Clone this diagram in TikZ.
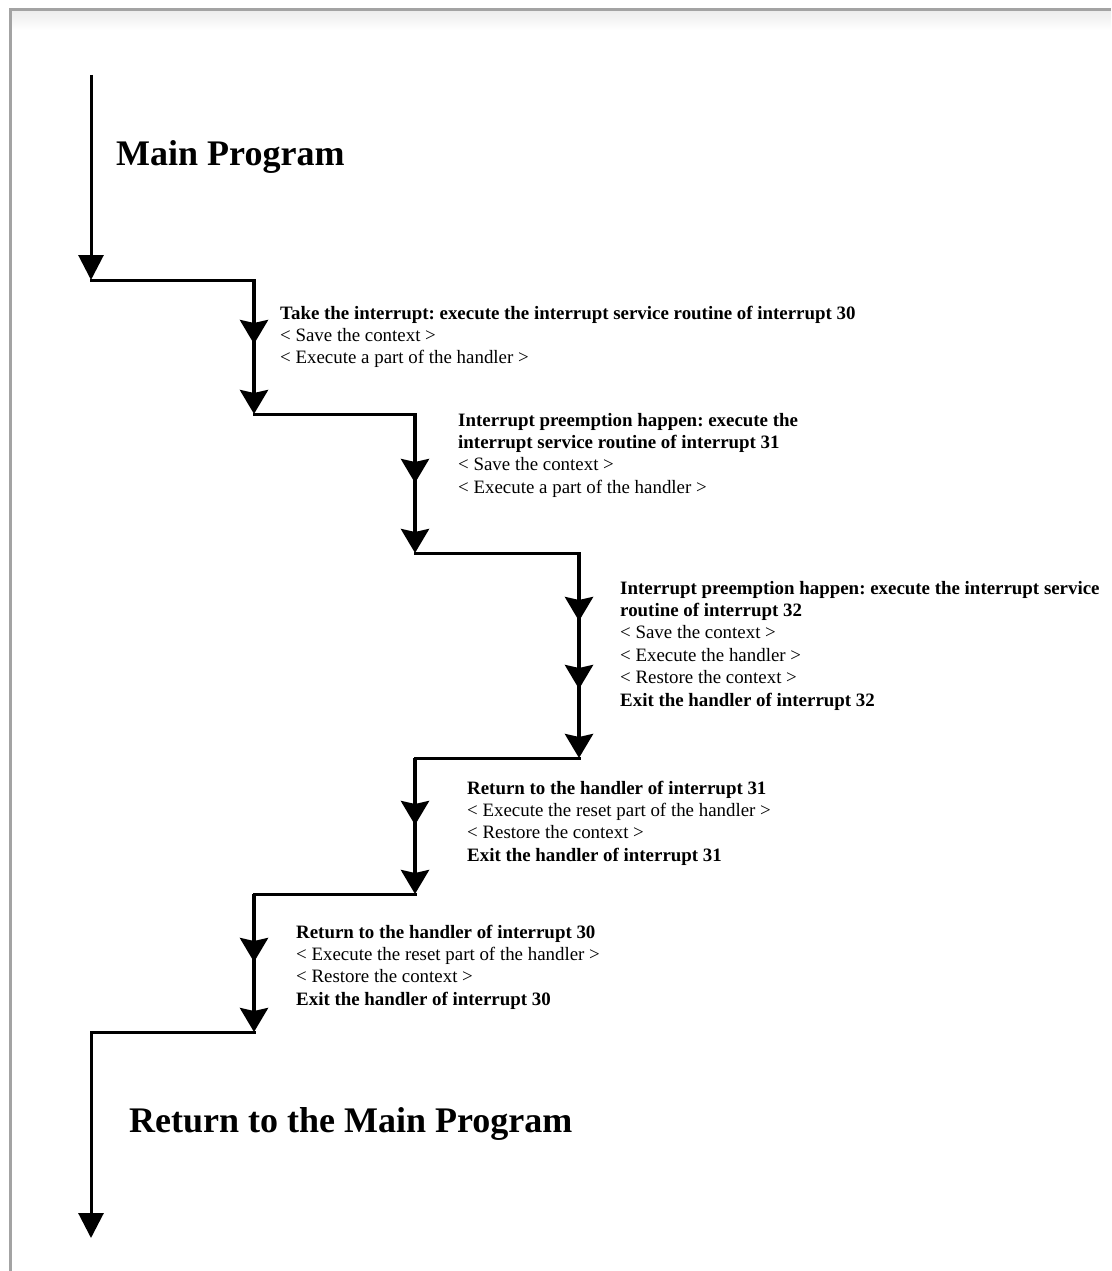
\documentclass[tikz,border=0pt]{standalone}
\usepackage{fontspec}
\setmainfont{Liberation Serif}
\usetikzlibrary{arrows.meta}

\definecolor{framegray}{HTML}{A3A3A3}

\tikzset{
  mainline/.style={line width=3pt, -{Triangle[length=25pt,width=25pt]}},
  stepline/.style={line width=4pt, -{Stealth[length=24pt,width=28pt,inset=3pt]}},
  stepspine/.style={line width=4pt},
  link/.style={line width=3pt, line cap=rect},
  steptext/.style={anchor=base west, inner sep=0pt,
    font=\fontsize{18.9}{22.4}\selectfont},
  bigtext/.style={anchor=base west, inner sep=0pt,
    font=\fontsize{36}{40}\selectfont\bfseries},
}

\newcommand{\steplines}[1]{\begin{tabular}[t]{@{}l@{}}#1\end{tabular}}

\begin{document}
\frenchspacing
\begin{tikzpicture}[x=1pt,y=-1pt]
  \useasboundingbox (0,0) rectangle (1111,1271);

  % page frame with a faint shadow under the top edge
  \shade[top color=black!7, bottom color=white] (11.5,11.5) rectangle (1111,30);
  \draw[framegray, line width=3pt] (10,1271) -- (10,10) -- (1111,10);

  % corner points of the staircase
  \coordinate (start) at (91,75);
  \coordinate (c0) at (91,280);
  \coordinate (t0) at (254,280);
  \coordinate (a1) at (254,344);
  \coordinate (c1) at (254,414);
  \coordinate (t1) at (415,414);
  \coordinate (a2) at (415,483);
  \coordinate (c2) at (415,553);
  \coordinate (t2) at (579,553);
  \coordinate (a3) at (579,621);
  \coordinate (b3) at (579,689);
  \coordinate (c3) at (579,758);
  \coordinate (t3) at (415,758);
  \coordinate (a4) at (415,825);
  \coordinate (c4) at (415,894);
  \coordinate (t4) at (254,894);
  \coordinate (a5) at (254,962);
  \coordinate (c5) at (254,1032);
  \coordinate (t5) at (91,1032);
  \coordinate (finish) at (91,1238);

  % horizontal links
  \draw[link] (c0) -- (t0);
  \draw[link] (c1) -- (t1);
  \draw[link] (c2) -- (t2);
  \draw[link] (c3) -- (t3);
  \draw[link] (c4) -- (t4);
  \draw[link] (c5) -- (t5);

  % main program flow
  \draw[mainline] (start) -- (c0);
  \draw[mainline] (t5) -- (finish);

  % continuous spines of the handler steps
  \draw[stepspine] (t0) -- (a1);
  \draw[stepspine] (t1) -- (a2);
  \draw[stepspine] (t2) -- (b3);
  \draw[stepspine] (t3) -- (a4);
  \draw[stepspine] (t4) -- (a5);

  % interrupt 30
  \draw[stepline] (t0) -- (a1);
  \draw[stepline] (a1) -- (c1);
  % interrupt 31
  \draw[stepline] (t1) -- (a2);
  \draw[stepline] (a2) -- (c2);
  % interrupt 32
  \draw[stepline] (t2) -- (a3);
  \draw[stepline] (a3) -- (b3);
  \draw[stepline] (b3) -- (c3);
  % back in 31
  \draw[stepline] (t3) -- (a4);
  \draw[stepline] (a4) -- (c4);
  % back in 30
  \draw[stepline] (t4) -- (a5);
  \draw[stepline] (a5) -- (c5);

  % labels
  \node[bigtext] (mainlbl) at (116,165) {Main Program};
  \node[bigtext] (retlbl) at (129,1132) {Return to the Main Program};

  \node[steptext] (isr30) at (280,319) {\steplines{%
    \textbf{Take the interrupt: execute the interrupt service routine of interrupt 30}\\
    < Save the context >\\
    < Execute a part of the handler >}};

  \node[steptext] (isr31) at (458,426) {\steplines{%
    \textbf{Interrupt preemption happen: execute the}\\
    \textbf{interrupt service routine of interrupt 31}\\
    < Save the context >\\
    < Execute a part of the handler >}};

  \node[steptext] (isr32) at (620,594) {\steplines{%
    \textbf{Interrupt preemption happen: execute the interrupt service}\\
    \textbf{routine of interrupt 32}\\
    < Save the context >\\
    < Execute the handler >\\
    < Restore the context >\\
    \textbf{Exit the handler of interrupt 32}}};

  \node[steptext] (back31) at (467,794) {\steplines{%
    \textbf{Return to the handler of interrupt 31}\\
    < Execute the reset part of the handler >\\
    < Restore the context >\\
    \textbf{Exit the handler of interrupt 31}}};

  \node[steptext] (back30) at (296,938) {\steplines{%
    \textbf{Return to the handler of interrupt 30}\\
    < Execute the reset part of the handler >\\
    < Restore the context >\\
    \textbf{Exit the handler of interrupt 30}}};
\end{tikzpicture}
\end{document}
